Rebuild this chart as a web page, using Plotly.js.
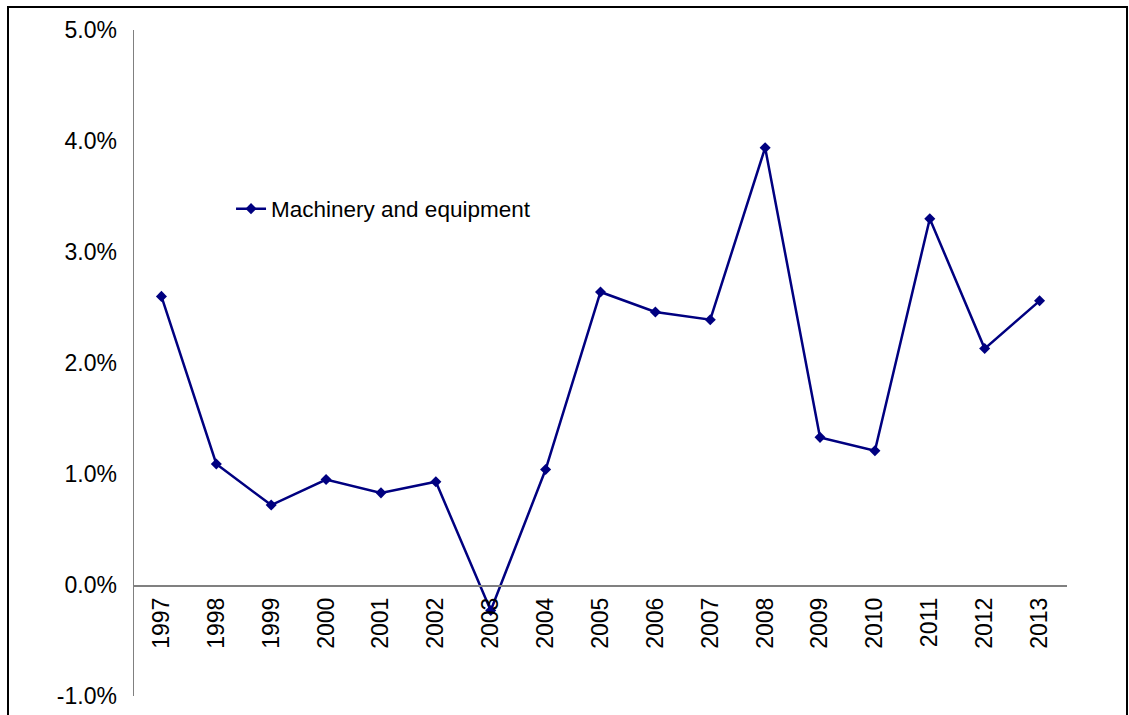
<!DOCTYPE html>
<html>
<head>
<meta charset="utf-8">
<script src="https://cdn.plot.ly/plotly-3.0.1.min.js"></script>
<style>
html,body{margin:0;padding:0;background:#fff;}
#chart{width:1129px;height:715px;}
</style>
</head>
<body>
<div id="chart"></div>
<script>
const years = ['1997','1998','1999','2000','2001','2002','2003','2004','2005','2006','2007','2008','2009','2010','2011','2012','2013'];
const machineryEquipment = [2.60, 1.09, 0.72, 0.95, 0.83, 0.93, -0.23, 1.04, 2.64, 2.46, 2.39, 3.94, 1.33, 1.21, 3.30, 2.13, 2.56];
const yTickVals = [-1, 0, 1, 2, 3, 4, 5];
const yTickText = ['-1.0%', '0.0%', '1.0%', '2.0%', '3.0%', '4.0%', '5.0%'];
const seriesName = 'Machinery and equipment';

const yRange = [-1, 5];
const zeroPos = (0 - yRange[0]) / (yRange[1] - yRange[0]);
const FONT = '"Liberation Sans", Arial, sans-serif';

const trace = {
  x: years,
  y: machineryEquipment,
  type: 'scatter',
  mode: 'lines+markers',
  name: seriesName,
  line: {color: '#000080', width: 2.5},
  marker: {symbol: 'diamond', size: 8.5, color: '#000080'},
  showlegend: true
};

const layout = {
  width: 1129,
  height: 715,
  margin: {l: 134, r: 62, t: 30, b: 19},
  paper_bgcolor: '#ffffff',
  plot_bgcolor: '#ffffff',
  font: {family: FONT, size: 22, color: '#000000'},
  showlegend: true,
  legend: {
    x: 0.104, y: 0.7312, xanchor: 'left', yanchor: 'middle',
    bgcolor: 'rgba(0,0,0,0)', borderwidth: 0,
    font: {family: FONT, size: 22.5, color: '#000000'}
  },
  xaxis: {
    type: 'category',
    range: [-0.5, years.length - 0.5],
    anchor: 'free',
    position: zeroPos,
    showline: true,
    linecolor: '#808080',
    linewidth: 1.5,
    showgrid: false,
    zeroline: false,
    ticks: '',
    tickangle: -90,
    ticklabelstandoff: 2,
    tickfont: {family: FONT, size: 23, color: '#000000'},
    fixedrange: true
  },
  yaxis: {
    range: yRange,
    domain: [0, 1],
    showline: true,
    linecolor: '#808080',
    linewidth: 1.5,
    showgrid: false,
    zeroline: false,
    ticks: '',
    tickmode: 'array',
    tickvals: yTickVals,
    ticktext: yTickText,
    ticklabelstandoff: 11,
    tickfont: {family: FONT, size: 23, color: '#000000'},
    fixedrange: true
  },
  shapes: [{
    type: 'rect', xref: 'paper', yref: 'paper',
    x0: (8 - 134) / 933, x1: (1127 - 134) / 933,
    y0: -0.05, y1: (696 - 7) / 666,
    line: {color: '#000000', width: 2},
    fillcolor: 'rgba(0,0,0,0)'
  }]
};

Plotly.newPlot('chart', [trace], layout, {displayModeBar: false, staticPlot: true});
</script>
</body>
</html>
